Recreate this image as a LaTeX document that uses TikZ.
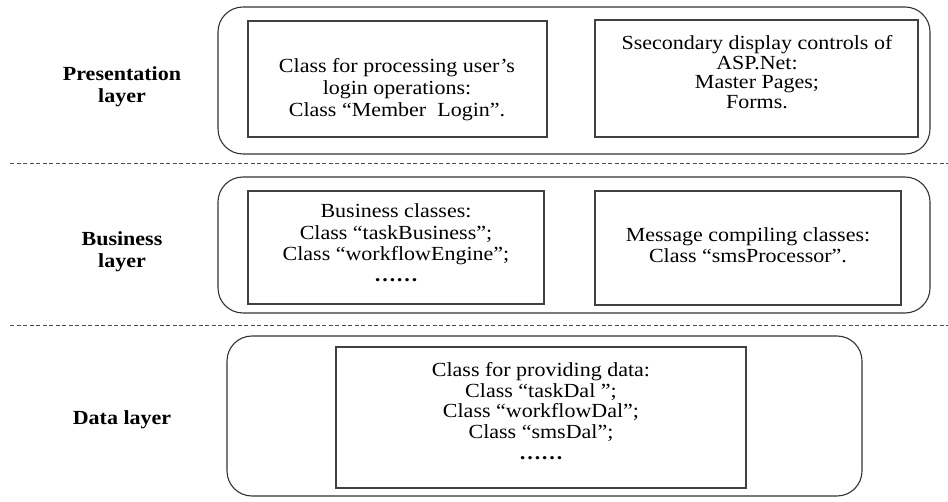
\documentclass[tikz,border=0pt]{standalone}
\usepackage{fontspec}
\setmainfont{Liberation Serif}[FakeStretch=1.1]
\usetikzlibrary{positioning}

\tikzset{
  layerbox/.style={draw=black!80, line width=1.1pt, rounded corners=25pt},
  classbox/.style={draw=black!75, line width=1.1pt},
  boxtext/.style={align=center, inner sep=0pt, font=\fontsize{20}{#1}\selectfont},
  layername/.style={align=center, inner sep=0pt, font=\fontsize{20}{22}\selectfont\bfseries},
  sepline/.style={draw=black!70, line width=0.8pt, dash pattern=on 4pt off 2.5pt},
}

\begin{document}
\begin{tikzpicture}[x=1pt, y=-1pt]
  \useasboundingbox (0,0) rectangle (948,502);

  % layer names
  \node[layername] (presName) at (122,87) {Presentation\\layer};
  \node[layername] (busName) at (122,252) {Business\\layer};
  \node[layername] (dataName) at (122,420) {Data layer};

  % separators
  \draw[sepline] (10,163) -- (948,163);
  \draw[sepline] (10,325) -- (948,325);

  % presentation layer
  \node[layerbox, minimum width=712, minimum height=147] (presLayer) at (574,80.5) {};
  \node[classbox, minimum width=299, minimum height=116] (loginBox) at (397.5,79) {};
  \node[boxtext=22] (loginText) at (397,90)
    {Class for processing user’s\\login operations:\\Class “Member~~Login”.};
  \node[classbox, minimum width=323, minimum height=117] (ctrlBox) at (756.5,78.5) {};
  \node[boxtext=19.7] (ctrlText) at (757,72)
    {Ssecondary display controls of\\ASP.Net:\\Master Pages;\\Forms.};

  % business layer
  \node[layerbox, minimum width=712, minimum height=136] (busLayer) at (574,245) {};
  \node[classbox, minimum width=296, minimum height=113] (taskBox) at (396,247.5) {};
  \node[boxtext=21.3] (taskText) at (396,243)
    {Business classes:\\Class “taskBusiness”;\\Class “workflowEngine”;\\\textbf{……}};
  \node[classbox, minimum width=306, minimum height=114] (smsBox) at (748,248) {};
  \node[boxtext=21.3] (smsText) at (748,245)
    {Message compiling classes:\\Class “smsProcessor”.};

  % data layer
  \node[layerbox, minimum width=635, minimum height=160] (dataLayer) at (544.5,416) {};
  \node[classbox, minimum width=410, minimum height=141] (dalBox) at (541,417.5) {};
  \node[boxtext=20.7] (dalText) at (541,411)
    {Class for providing data:\\Class “taskDal ”;\\Class “workflowDal”;\\Class “smsDal”;\\\textbf{……}};
\end{tikzpicture}
\end{document}
